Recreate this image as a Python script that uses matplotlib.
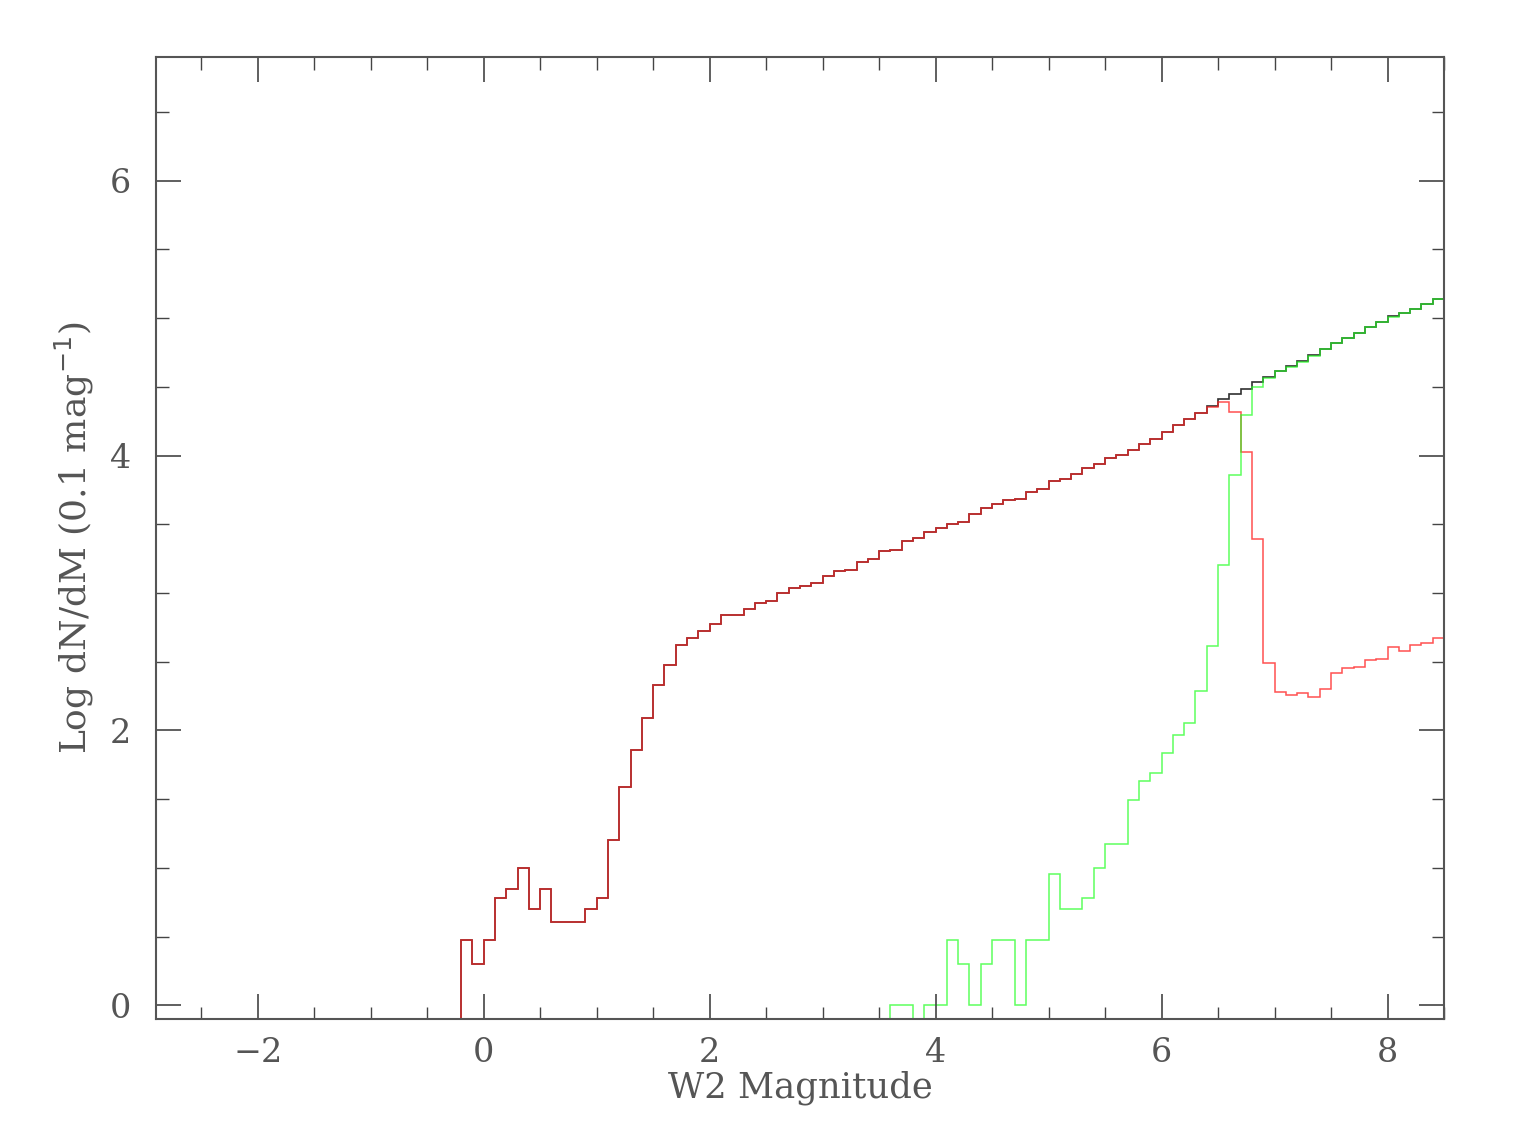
import numpy as np
import matplotlib
matplotlib.use('Agg')
import matplotlib.pyplot as plt
from matplotlib.ticker import MultipleLocator

# bin edges, 0.1 mag wide
total_start = -0.2
green_start = 3.6
bin_width = 0.1

# log counts per 0.1 mag, all sources (black)
total_logn = [
    0.477, 0.301, 0.477, 0.778, 0.845, 1.000, 0.699, 0.845, 0.602, 0.602, 0.602, 0.699,
    0.778, 1.204, 1.591, 1.857, 2.090, 2.327, 2.478, 2.625, 2.674, 2.722,
    2.771, 2.839, 2.839, 2.885, 2.929, 2.942, 2.999, 3.033, 3.050, 3.072,
    3.123, 3.161, 3.168, 3.226, 3.244, 3.304, 3.311, 3.375, 3.399, 3.443,
    3.472, 3.505, 3.516, 3.572, 3.617, 3.644, 3.680, 3.682, 3.733, 3.760,
    3.816, 3.830, 3.869, 3.911, 3.935, 3.985, 4.007, 4.041, 4.082, 4.124,
    4.175, 4.220, 4.265, 4.313, 4.359, 4.415, 4.451, 4.482, 4.533, 4.572,
    4.616, 4.650, 4.686, 4.730, 4.778, 4.822, 4.858, 4.895, 4.936, 4.975,
    5.013, 5.040, 5.069, 5.105, 5.139,
]

# red subset
red_logn = [
    0.477, 0.301, 0.477, 0.778, 0.845, 1.000, 0.699, 0.845, 0.602, 0.602, 0.602, 0.699,
    0.778, 1.204, 1.591, 1.857, 2.090, 2.327, 2.478, 2.625, 2.674, 2.722,
    2.771, 2.839, 2.839, 2.885, 2.929, 2.942, 2.999, 3.033, 3.050, 3.072,
    3.123, 3.161, 3.168, 3.226, 3.244, 3.304, 3.311, 3.375, 3.399, 3.443,
    3.472, 3.505, 3.516, 3.572, 3.617, 3.644, 3.680, 3.682, 3.733, 3.760,
    3.816, 3.830, 3.869, 3.911, 3.935, 3.985, 4.007, 4.041, 4.082, 4.124,
    4.175, 4.220, 4.265, 4.313, 4.355, 4.388, 4.320, 4.027, 3.392, 2.492,
    2.279, 2.260, 2.269, 2.240, 2.303, 2.419, 2.451, 2.461, 2.509, 2.516,
    2.609, 2.580, 2.623, 2.638, 2.671,
]

# green subset (-1 = empty bin)
green_logn = [
    0.000, 0.000, -1.0, 0.000, 0.000, 0.477, 0.301, 0.000, 0.301, 0.477,
    0.477, 0.000, 0.477, 0.477, 0.954, 0.699, 0.699, 0.778, 1.000, 1.176,
    1.176, 1.491, 1.633, 1.690, 1.833, 1.968, 2.051, 2.286, 2.611, 3.205,
    3.859, 4.293, 4.502, 4.568, 4.613, 4.648, 4.684, 4.728, 4.776, 4.820,
    4.856, 4.893, 4.934, 4.973, 5.011, 5.038, 5.067, 5.103, 5.137,
]

xticks = [-2, 0, 2, 4, 6, 8]
yticks = [0, 2, 4, 6]

txt = '#555555'
plt.rcParams['font.family'] = ['DejaVu Serif']

fig = plt.figure(figsize=(15.36, 11.48), dpi=100)
ax = fig.add_axes([0.1016, 0.1124, 0.8385, 0.8379])

def edges(start, n):
    return start + bin_width * np.arange(n + 1)

ax.stairs(total_logn, edges(total_start, len(total_logn)), baseline=-1,
          color='#303030', lw=1.2)
ax.stairs(red_logn, edges(total_start, len(red_logn)), baseline=-1,
          color='#ff2020', lw=1.1, alpha=0.78)
ax.stairs(green_logn, edges(green_start, len(green_logn)), baseline=-1,
          color='#20ff20', lw=1.1, alpha=0.72)

ax.set_xlim(-2.9, 8.5)
ax.set_ylim(-0.1, 6.9)
ax.set_xticks(xticks)
ax.set_yticks(yticks)
ax.xaxis.set_minor_locator(MultipleLocator(0.5))
ax.yaxis.set_minor_locator(MultipleLocator(0.5))
ax.tick_params(which='both', direction='in', top=True, right=True,
               colors='#444444', labelcolor=txt, labelsize=24)
ax.tick_params(which='major', length=18, width=1.2, pad=13)
ax.tick_params(which='minor', length=9, width=1.0)
ax.tick_params(axis='y', pad=18)
for s in ax.spines.values():
    s.set_color('#555555')
    s.set_linewidth(1.5)

ax.set_xlabel('W2 Magnitude', fontsize=25.5, color=txt, labelpad=1)
ax.set_ylabel('Log dN/dM (0.1 mag$^{-1}$)', fontsize=26, color=txt, labelpad=10)

fig.savefig('out.png', dpi=100)
